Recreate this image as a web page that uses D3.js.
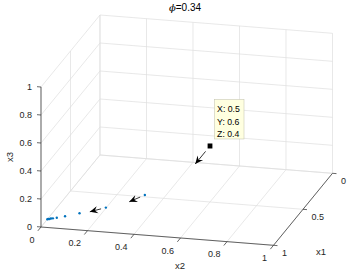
<!DOCTYPE html>
<html>
<head>
<meta charset="utf-8">
<script src="https://cdn.jsdelivr.net/npm/d3@7"></script>
<style>
  html, body { margin: 0; padding: 0; background: #fff; }
  svg { display: block; font-family: "Liberation Sans", Arial, Helvetica, sans-serif; }
</style>
</head>
<body>
<script>
// ---------------- data ----------------
const x1Ticks = [0, 0.5, 1];
const x2Ticks = [0, 0.2, 0.4, 0.6, 0.8, 1];
const x3Ticks = [0, 0.2, 0.4, 0.6, 0.8, 1];

// trajectory points (x1, x2, x3)
const ptX1 = [0.5, 0.8, 0.85, 0.875, 0.888, 0.894, 0.897, 0.898, 0.899, 0.9, 0.9];
const ptX2 = [0.6, 0.396, 0.241, 0.134, 0.075, 0.041, 0.025, 0.017, 0.011, 0.005, 0.002];
const ptX3 = [0.4, 0.177, 0.093, 0.051, 0.029, 0.017, 0.012, 0.010, 0.007, 0.006, 0.004];

// quiver arrows, attached to the first points
const arrowAt = [0, 1, 2];
const arrowU = [0.25, 0.103, 0.071];
const arrowV = [0, -0.041, -0.051];
const arrowW = [0, 0, 0];

const tipIndex = 0;
const tipLines = ['X: 0.5', 'Y: 0.6', 'Z: 0.4'];
const titlePhi = '0.34';

// ---------------- projection ----------------
const W = 354, H = 273;
const origin = [100, 155];
const dirX1 = [-59, 72];
const dirX2 = [232.5, 18.3];
const dirX3 = [0, -140];

const s1 = d3.scaleLinear().domain([0, 1]).range([0, 1]);
const s2 = d3.scaleLinear().domain([0, 1]).range([0, 1]);
const s3 = d3.scaleLinear().domain([0, 1]).range([0, 1]);

function proj(a, b, c) {
	const u = s1(a), v = s2(b), w = s3(c);
	return [
		origin[0] + u * dirX1[0] + v * dirX2[0] + w * dirX3[0],
		origin[1] + u * dirX1[1] + v * dirX2[1] + w * dirX3[1],
	];
}
const unit = (d) => { const l = Math.hypot(d[0], d[1]); return [d[0] / l, d[1] / l]; };
const u1 = unit(dirX1), u2 = unit(dirX2);

const svg = d3.select('body').append('svg').attr('width', W).attr('height', H);

const axisColor = '#262626';
const gridColor = '#dedede';

// ---------------- grid ----------------
const gridSegs = [];
x2Ticks.forEach((t) => gridSegs.push([[0, t, 0], [0, t, 1]]));
x3Ticks.forEach((t) => gridSegs.push([[0, 0, t], [0, 1, t]]));
x1Ticks.forEach((t) => gridSegs.push([[t, 0, 0], [t, 0, 1]]));
x3Ticks.forEach((t) => gridSegs.push([[0, 0, t], [1, 0, t]]));
x2Ticks.forEach((t) => gridSegs.push([[0, t, 0], [1, t, 0]]));
x1Ticks.forEach((t) => gridSegs.push([[t, 0, 0], [t, 1, 0]]));

svg.append('g')
	.selectAll('line')
	.data(gridSegs)
	.join('line')
	.attr('x1', (d) => proj(...d[0])[0])
	.attr('y1', (d) => proj(...d[0])[1])
	.attr('x2', (d) => proj(...d[1])[0])
	.attr('y2', (d) => proj(...d[1])[1])
	.attr('stroke', gridColor)
	.attr('stroke-width', 0.7);

// ---------------- axes ----------------
const axisSegs = [
	[[1, 0, 0], [1, 0, 1]], // x3
	[[1, 0, 0], [1, 1, 0]], // x2
	[[0, 1, 0], [1, 1, 0]], // x1
];
const axes = svg.append('g').attr('stroke', axisColor).attr('stroke-width', 0.7);
axes.selectAll('line.ax')
	.data(axisSegs)
	.join('line')
	.attr('class', 'ax')
	.attr('x1', (d) => proj(...d[0])[0])
	.attr('y1', (d) => proj(...d[0])[1])
	.attr('x2', (d) => proj(...d[1])[0])
	.attr('y2', (d) => proj(...d[1])[1]);

// ticks
const tickData = [
	...x3Ticks.map((t) => ({ p: proj(1, 0, t), d: [-u2[0] * 4, -u2[1] * 4] })),
	...x2Ticks.map((t) => ({ p: proj(1, t, 0), d: [u1[0] * 5, u1[1] * 5] })),
	...x1Ticks.map((t) => ({ p: proj(t, 1, 0), d: [u2[0] * 4, u2[1] * 4] })),
];
axes.selectAll('line.tk')
	.data(tickData)
	.join('line')
	.attr('class', 'tk')
	.attr('x1', (d) => d.p[0])
	.attr('y1', (d) => d.p[1])
	.attr('x2', (d) => d.p[0] + d.d[0])
	.attr('y2', (d) => d.p[1] + d.d[1]);

// tick labels
const labels = svg.append('g').attr('fill', axisColor).attr('font-size', 9);
labels.selectAll('text.z')
	.data(x3Ticks)
	.join('text')
	.attr('class', 'z')
	.attr('x', (t) => proj(1, 0, t)[0] - 9)
	.attr('y', (t) => proj(1, 0, t)[1] + 3.2)
	.attr('text-anchor', 'end')
	.text((t) => d3.format('~g')(t));
labels.selectAll('text.x2')
	.data(x2Ticks)
	.join('text')
	.attr('class', 'x2')
	.attr('x', (t) => proj(1, t, 0)[0] - 6.5)
	.attr('y', (t) => proj(1, t, 0)[1] + 15.7)
	.attr('text-anchor', 'end')
	.text((t) => d3.format('~g')(t));
labels.selectAll('text.x1')
	.data(x1Ticks)
	.join('text')
	.attr('class', 'x1')
	.attr('x', (t) => proj(t, 1, 0)[0] + 8.5)
	.attr('y', (t) => proj(t, 1, 0)[1] + 10.2)
	.attr('text-anchor', 'start')
	.text((t) => d3.format('~g')(t));

// axis titles
const lab = svg.append('g').attr('fill', axisColor).attr('font-size', 9.5).attr('text-anchor', 'middle');
lab.append('text').attr('transform', 'translate(13,157) rotate(-90)').text('x3');
lab.append('text').attr('x', 180).attr('y', 268.5).text('x2');
lab.append('text').attr('x', 321).attr('y', 254.5).text('x1');

// title
const title = svg.append('text').attr('x', 185).attr('y', 10.5).attr('text-anchor', 'middle')
	.attr('font-size', 10).attr('fill', '#000');
title.append('tspan').attr('font-style', 'italic').attr('font-family', 'DejaVu Serif, serif').text('\u03d5');
title.append('tspan').text('=' + titlePhi);

// ---------------- data marks ----------------
const pts = ptX1.map((v, i) => proj(v, ptX2[i], ptX3[i]));

svg.append('g')
	.selectAll('circle')
	.data(pts)
	.join('circle')
	.attr('cx', (d) => d[0])
	.attr('cy', (d) => d[1])
	.attr('r', 1.2)
	.attr('fill', '#0072BD');

// arrows
const arrows = arrowAt.map((k, i) => {
	const s = proj(ptX1[k] + 0.3 * arrowU[i], ptX2[k] + 0.3 * arrowV[i], ptX3[k] + 0.3 * arrowW[i]);
	const e = proj(ptX1[k] + arrowU[i], ptX2[k] + arrowV[i], ptX3[k] + arrowW[i]);
	return { s, e };
});
const ag = svg.append('g');
ag.selectAll('line')
	.data(arrows)
	.join('line')
	.attr('x1', (d) => d.s[0])
	.attr('y1', (d) => d.s[1])
	.attr('x2', (d) => d.e[0])
	.attr('y2', (d) => d.e[1])
	.attr('stroke', '#000')
	.attr('stroke-width', 0.8);
ag.selectAll('path')
	.data(arrows)
	.join('path')
	.attr('fill', '#000')
	.attr('d', (d) => {
		const dir = unit([d.e[0] - d.s[0], d.e[1] - d.s[1]]);
		const n = [-dir[1], dir[0]];
		const L = 8, hw = 3.6;
		const b = [d.e[0] - dir[0] * L, d.e[1] - dir[1] * L];
		const m = [d.e[0] - dir[0] * L * 0.65, d.e[1] - dir[1] * L * 0.65];
		return `M${d.e[0]},${d.e[1]}L${b[0] + n[0] * hw},${b[1] + n[1] * hw}L${m[0]},${m[1]}L${b[0] - n[0] * hw},${b[1] - n[1] * hw}Z`;
	});

// ---------------- datatip ----------------
const tp = pts[tipIndex];
svg.append('rect')
	.attr('x', tp[0] - 2.4)
	.attr('y', tp[1] - 2.5)
	.attr('width', 4.8)
	.attr('height', 5)
	.attr('fill', '#000');
const tip = svg.append('g').attr('transform', `translate(${tp[0] + 4.5},${tp[1] - 46.5})`);
tip.append('rect')
	.attr('width', 29.5)
	.attr('height', 39.5)
	.attr('fill', '#ffffe0')
	.attr('stroke', '#c8c8b4')
	.attr('stroke-width', 0.6);
tip.selectAll('text')
	.data(tipLines)
	.join('text')
	.attr('x', 2.6)
	.attr('y', (d, i) => 13 + i * 12.1)
	.attr('font-size', 8.7)
	.attr('fill', '#000')
	.text((d) => d);
</script>
</body>
</html>
